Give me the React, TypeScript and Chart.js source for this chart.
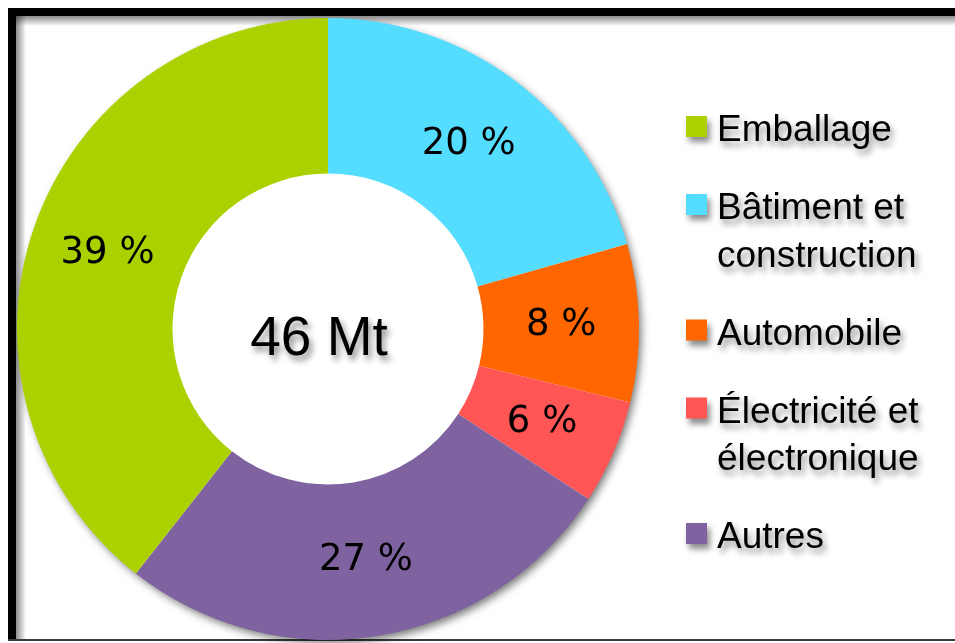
import { useEffect, useRef } from "react";
import { Chart, DoughnutController, ArcElement } from "chart.js";

Chart.register(DoughnutController, ArcElement);

// Data (in drawing order, clockwise from the top)
const categories = ["Bâtiment et construction", "Automobile", "Électricité et électronique", "Autres", "Emballage"];
const shares = [20.6, 8.2, 5.4, 26.4, 39.4];
const shareLabels = ["20 %", "8 %", "6 %", "27 %", "39 %"];
const colors = ["#55DDFF", "#FF6600", "#FF5555", "#7F63A1", "#ABD200"];
const centerLabel = "46 Mt";
// Legend order and wrapped lines
const legendOrder = [4, 0, 1, 2, 3];
const legendLines = [["Bâtiment et", "construction"], ["Automobile"], ["Électricité et", "électronique"], ["Autres"], ["Emballage"]];

const W = 955;
const H = 643;

const framePlugin = {
  id: "frame",
  beforeDraw(chart: any) {
    const ctx = chart.ctx as CanvasRenderingContext2D;
    ctx.save();
    ctx.fillStyle = "#ffffff";
    ctx.fillRect(0, 0, W, H);
    // inner soft shadow (left & top)
    let g = ctx.createLinearGradient(16, 0, 26, 0);
    g.addColorStop(0, "rgba(0,0,0,0.45)");
    g.addColorStop(1, "rgba(0,0,0,0)");
    ctx.fillStyle = g;
    ctx.fillRect(16, 16, 10, 624);
    g = ctx.createLinearGradient(0, 16, 0, 26);
    g.addColorStop(0, "rgba(0,0,0,0.45)");
    g.addColorStop(1, "rgba(0,0,0,0)");
    ctx.fillStyle = g;
    ctx.fillRect(16, 16, W - 16, 10);
    // black band
    ctx.fillStyle = "#000000";
    ctx.fillRect(8, 8, 8, 633);
    ctx.fillRect(8, 8, W - 8, 8);
    // bottom line
    ctx.fillStyle = "#3a3a3a";
    ctx.fillRect(8, 639, W - 8, 2);
    ctx.restore();
  },
};

const ringShadowPlugin = {
  id: "ringShadow",
  beforeDatasetsDraw(chart: any) {
    const meta = chart.getDatasetMeta(0);
    const arc = meta.data[0];
    if (!arc) return;
    const { x, y, outerRadius } = arc.getProps(["x", "y", "outerRadius"], true);
    const ctx = chart.ctx as CanvasRenderingContext2D;
    ctx.save();
    ctx.shadowColor = "rgba(0,0,0,0.55)";
    ctx.shadowBlur = 8;
    ctx.shadowOffsetX = 3;
    ctx.shadowOffsetY = 4;
    ctx.fillStyle = "#ffffff";
    ctx.beginPath();
    ctx.arc(x, y, outerRadius - 1, 0, Math.PI * 2);
    ctx.fill();
    ctx.restore();
  },
};

const textPlugin = {
  id: "texts",
  afterDatasetsDraw(chart: any) {
    const ctx = chart.ctx as CanvasRenderingContext2D;
    const meta = chart.getDatasetMeta(0);
    ctx.save();
    // percentage labels
    ctx.fillStyle = "#000000";
    ctx.font = "37px 'DejaVu Sans'";
    ctx.textAlign = "center";
    ctx.textBaseline = "middle";
    let cx = 0;
    let cy = 0;
    meta.data.forEach((el: any, i: number) => {
      const p = el.getProps(["x", "y", "startAngle", "endAngle", "innerRadius", "outerRadius"], true);
      cx = p.x;
      cy = p.y;
      const a = (p.startAngle + p.endAngle) / 2;
      const r = (p.innerRadius + p.outerRadius) / 2;
      ctx.fillText(shareLabels[i], p.x + Math.cos(a) * r, p.y + Math.sin(a) * r + 1);
    });
    // center text + legend with shadows
    ctx.shadowColor = "rgba(0,0,0,0.45)";
    ctx.shadowBlur = 6;
    ctx.shadowOffsetX = 3;
    ctx.shadowOffsetY = 5;
    ctx.textBaseline = "alphabetic";
    ctx.font = "55px 'Liberation Sans'";
    ctx.fillText(centerLabel, cx - 9, cy + 26);

    ctx.textAlign = "left";
    ctx.font = "37px 'Liberation Sans'";
    let base = 141;
    legendOrder.forEach((idx) => {
      ctx.fillStyle = colors[idx];
      ctx.fillRect(686, base - 25, 21, 21);
      ctx.fillStyle = "#000000";
      const lines = legendLines[idx];
      lines.forEach((ln, k) => {
        ctx.fillText(ln, 717, base + k * 47.5);
      });
      base += (lines.length - 1) * 47.5 + 78;
    });
    ctx.restore();
  },
};

export default function App() {
  const ref = useRef<HTMLCanvasElement | null>(null);
  useEffect(() => {
    if (!ref.current) return;
    const chart = new Chart(ref.current, {
      type: "doughnut",
      data: {
        labels: categories,
        datasets: [
          {
            data: shares,
            backgroundColor: colors,
            borderWidth: 0,
          },
        ],
      },
      options: {
        responsive: false,
        maintainAspectRatio: false,
        animation: false,
        devicePixelRatio: 1,
        cutout: "50%",
        rotation: 0,
        layout: { padding: { left: 16, top: 18, right: 315, bottom: 3 } },
        plugins: { legend: { display: false }, tooltip: { enabled: false } },
        events: [],
      },
      plugins: [framePlugin, ringShadowPlugin, textPlugin],
    });
    return () => chart.destroy();
  }, []);
  return (
    <canvas
      ref={ref}
      width={W}
      height={H}
      style={{ position: "fixed", left: 0, top: 0, width: W, height: H, display: "block" }}
    />
  );
}
